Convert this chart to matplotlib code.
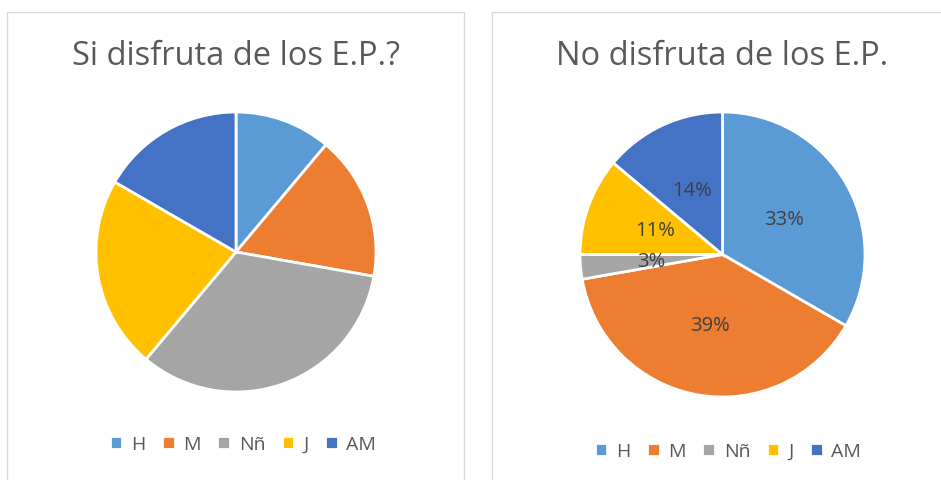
import matplotlib.pyplot as plt
from matplotlib.patches import Rectangle

# -----------------------------
# data
# -----------------------------
categories = ["H", "M", "Nñ", "J", "AM"]
si_values = [2, 3, 6, 4, 3]
no_values = [12, 14, 1, 4, 5]
colors = ["#5B9BD5", "#ED7D31", "#A5A5A5", "#FFC000", "#4472C4"]

title_left = "Si disfruta de los E.P.?"
title_right = "No disfruta de los E.P."

W, H = 941, 481
plt.rcParams["font.family"] = ["Open Sans", "DejaVu Sans"]
fig = plt.figure(figsize=(W / 100, H / 100), dpi=100)


def px_box(x0, y0, x1, y1):
    # pixel box (top-left origin) -> figure fraction rect
    return [x0 / W, 1 - y1 / H, (x1 - x0) / W, (y1 - y0) / H]


# panel frames
for x0, x1 in [(7, 464), (492, 960)]:
    fig.patches.append(Rectangle((x0 / W, -0.05), (x1 - x0) / W, 1 - 13 / H + 0.05,
                                 transform=fig.transFigure, fill=False,
                                 edgecolor="#D9D9D9", linewidth=1.0))

# left pie
ax1 = fig.add_axes(px_box(96, 113, 376, 393))
wedges, _ = ax1.pie(si_values, colors=colors, startangle=90, counterclock=False,
                    wedgeprops=dict(edgecolor="white", linewidth=2))
ax1.set_xlim(-1, 1)
ax1.set_ylim(-1, 1)
ax1.axis("off")

# right pie
ax2 = fig.add_axes(px_box(580, 113, 865, 398))
wedges2, _, autotexts = ax2.pie(no_values, colors=colors, startangle=90, counterclock=False,
                                autopct=lambda p: "%d%%" % round(p), pctdistance=0.5,
                                wedgeprops=dict(edgecolor="white", linewidth=2),
                                textprops=dict(color="#404040", fontsize=14.5))
ax2.set_xlim(-1, 1)
ax2.set_ylim(-1, 1)
ax2.axis("off")

# titles
fig.text(236 / W, 1 - 57 / H, title_left, ha="center", va="center",
         fontsize=23.5, color="#595959")
fig.text(722 / W, 1 - 57 / H, title_right, ha="center", va="center",
         fontsize=23.5, color="#595959")

# legends
leg_kw = dict(loc="center", ncol=5, frameon=False, fontsize=14, handlelength=0.65,
              handleheight=0.65, handletextpad=0.45, columnspacing=0.85, labelcolor="#595959")
fig.legend(wedges, categories, bbox_to_anchor=(243 / W, 1 - 445 / H), **leg_kw)
fig.legend(wedges2, categories, bbox_to_anchor=(728 / W, 1 - 452 / H), **leg_kw)

fig.savefig("out.png", dpi=100)
